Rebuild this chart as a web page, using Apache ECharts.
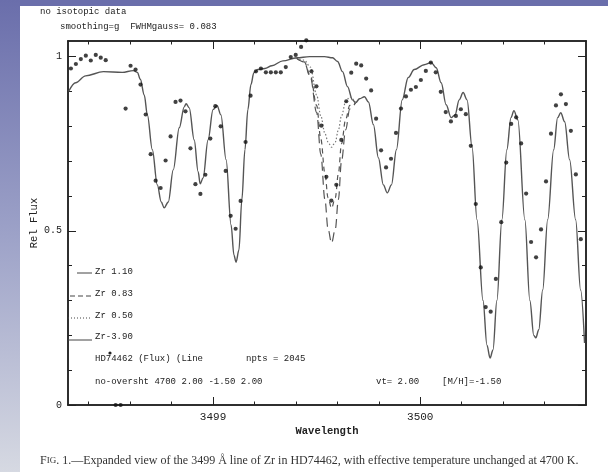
<!DOCTYPE html>
<html>
<head>
<meta charset="utf-8">
<title>Zr 3499</title>
<script src="https://cdn.jsdelivr.net/npm/echarts@6/dist/echarts.min.js"></script>
<style>
  html, body { margin: 0; padding: 0; background: #fff; }
  #main { width: 608px; height: 472px; }
</style>
</head>
<body>
<div id="main"></div>
<script>
// observed flux (dots)
var obsX = [3498.314, 3498.338, 3498.362, 3498.386, 3498.410, 3498.434, 3498.458, 3498.482,
  3498.530, 3498.554, 3498.578, 3498.602, 3498.626, 3498.650, 3498.675, 3498.699, 3498.723,
  3498.747, 3498.771, 3498.795, 3498.819, 3498.843, 3498.867, 3498.891, 3498.915, 3498.939,
  3498.963, 3498.987, 3499.011, 3499.037, 3499.061, 3499.085, 3499.109, 3499.133, 3499.157,
  3499.181, 3499.207, 3499.231, 3499.255, 3499.279, 3499.303, 3499.327, 3499.351, 3499.375,
  3499.399, 3499.425, 3499.450, 3499.475, 3499.499, 3499.523, 3499.547, 3499.571, 3499.595,
  3499.619, 3499.643, 3499.667, 3499.691, 3499.715, 3499.739, 3499.763, 3499.787, 3499.811,
  3499.835, 3499.859, 3499.883, 3499.907, 3499.931, 3499.955, 3499.979, 3500.003, 3500.027,
  3500.051, 3500.075, 3500.099, 3500.123, 3500.148, 3500.172, 3500.196, 3500.220, 3500.244,
  3500.268, 3500.292, 3500.316, 3500.340, 3500.365, 3500.391, 3500.415, 3500.439, 3500.463,
  3500.487, 3500.511, 3500.535, 3500.559, 3500.583, 3500.607, 3500.631, 3500.655, 3500.679,
  3500.703, 3500.727, 3500.751, 3500.775];
var obsY = [0.966, 0.979, 0.993, 1.003, 0.989, 1.005, 0.997, 0.990,
  0.0, 0.0, 0.851, 0.974, 0.963, 0.920, 0.834, 0.720, 0.644,
  0.623, 0.702, 0.771, 0.870, 0.874, 0.843, 0.737, 0.634, 0.606,
  0.661, 0.765, 0.858, 0.800, 0.672, 0.543, 0.506, 0.586, 0.755,
  0.888, 0.958, 0.966, 0.955, 0.955, 0.955, 0.955, 0.970, 0.999,
  1.005, 1.028, 1.047, 0.958, 0.915, 0.802, 0.655, 0.587, 0.632,
  0.761, 0.872, 0.954, 0.980, 0.975, 0.937, 0.903, 0.822, 0.731,
  0.682, 0.707, 0.781, 0.851, 0.886, 0.905, 0.913, 0.933, 0.959,
  0.983, 0.955, 0.899, 0.841, 0.814, 0.830, 0.849, 0.835, 0.744,
  0.577, 0.395, 0.281, 0.268, 0.362, 0.525, 0.696, 0.807, 0.826,
  0.751, 0.607, 0.468, 0.424, 0.504, 0.642, 0.779, 0.860, 0.892,
  0.864, 0.787, 0.662, 0.476];

// synthetic spectrum, Zr -3.90 (shared by all models outside the Zr line)
var synX = [3498.303, 3498.337, 3498.385, 3498.471, 3498.562, 3498.615, 3498.635, 3498.649,
  3498.668, 3498.683, 3498.707, 3498.731, 3498.750, 3498.764, 3498.784, 3498.808, 3498.837,
  3498.861, 3498.870, 3498.885, 3498.909, 3498.928, 3498.938, 3498.952, 3498.976, 3499.000,
  3499.019, 3499.038, 3499.063, 3499.087, 3499.101, 3499.111, 3499.125, 3499.139, 3499.154,
  3499.168, 3499.183, 3499.197, 3499.216, 3499.250, 3499.284, 3499.337, 3499.404, 3499.466,
  3499.538, 3499.577, 3499.601, 3499.625, 3499.649, 3499.673, 3499.688, 3499.707, 3499.731,
  3499.750, 3499.774, 3499.798, 3499.822, 3499.841, 3499.861, 3499.885, 3499.913, 3499.942,
  3499.971, 3500.019, 3500.053, 3500.077, 3500.101, 3500.125, 3500.149, 3500.168, 3500.188,
  3500.207, 3500.226, 3500.250, 3500.274, 3500.303, 3500.322, 3500.337, 3500.351, 3500.370,
  3500.394, 3500.418, 3500.438, 3500.452, 3500.471, 3500.505, 3500.529, 3500.548, 3500.558,
  3500.572, 3500.591, 3500.615, 3500.644, 3500.663, 3500.678, 3500.697, 3500.721, 3500.750,
  3500.774, 3500.793];
var synY = [0.900, 0.925, 0.945, 0.957, 0.955, 0.960, 0.955, 0.935,
  0.890, 0.833, 0.733, 0.632, 0.583, 0.566, 0.583, 0.675, 0.796,
  0.856, 0.865, 0.853, 0.761, 0.670, 0.635, 0.652, 0.761, 0.848,
  0.860, 0.833, 0.704, 0.517, 0.430, 0.410, 0.445, 0.589, 0.733,
  0.848, 0.920, 0.954, 0.963, 0.966, 0.974, 0.988, 0.997, 1.000,
  1.000, 0.997, 0.986, 0.957, 0.914, 0.876, 0.868, 0.879, 0.885,
  0.870, 0.805, 0.710, 0.632, 0.609, 0.632, 0.733, 0.876, 0.940,
  0.963, 0.977, 0.983, 0.968, 0.925, 0.862, 0.825, 0.833, 0.876,
  0.897, 0.876, 0.741, 0.532, 0.300, 0.172, 0.135, 0.158, 0.300,
  0.532, 0.733, 0.825, 0.845, 0.819, 0.532, 0.300, 0.200, 0.193,
  0.216, 0.330, 0.532, 0.733, 0.825, 0.839, 0.813, 0.704, 0.532,
  0.330, 0.178];

// models with Zr, only where they leave the Zr -3.90 curve
var zrX = [3499.400, 3499.440, 3499.470, 3499.500, 3499.520, 3499.540, 3499.555, 3499.572,
  3499.590, 3499.605, 3499.620, 3499.640, 3499.660, 3499.688];
var zr110Y = [0.997, 0.985, 0.940, 0.840, 0.720, 0.590, 0.505, 0.465, 0.505, 0.590, 0.700, 0.790, 0.850, 0.868];
var zr083Y = [0.997, 0.985, 0.945, 0.860, 0.765, 0.665, 0.595, 0.565, 0.595, 0.665, 0.750, 0.820, 0.860, 0.868];
var zr050Y = [0.997, 0.990, 0.970, 0.890, 0.830, 0.780, 0.755, 0.740, 0.755, 0.790, 0.830, 0.870, 0.885, 0.868];

var xMinorTicks = [3498.4, 3498.6, 3498.8, 3499.2, 3499.4, 3499.6, 3499.8, 3500.2, 3500.4, 3500.6];
var xMajorTicks = [3499, 3500];
var yMinorTicks = [0.1, 0.2, 0.3, 0.4, 0.6, 0.7, 0.8, 0.9];
var yMajorTicks = [0, 0.5, 1];

function pairs(xs, ys) {
  var out = [];
  for (var i = 0; i < xs.length; i++) out.push([xs[i], ys[i]]);
  return out;
}

var chart = echarts.init(document.getElementById('main'));
var ink = '#222';
var mono = '"Liberation Mono", monospace';
var X0 = 3498.3, X1 = 3500.8, Y0 = 0, Y1 = 1.045;

function xAx(pos, ticks, len, show) {
  return {
    type: 'value', position: pos, min: X0, max: X1,
    axisLine: { show: true, onZero: false, lineStyle: { color: ink, width: 1.5 } },
    axisTick: { show: true, inside: true, length: len, customValues: ticks, lineStyle: { color: ink } },
    axisLabel: show ? { show: true, customValues: xMajorTicks, margin: 7, color: ink, fontFamily: mono, fontSize: 11,
      formatter: function (v) { return String(Math.round(v)); } } : { show: false },
    splitLine: { show: false },
    name: show ? 'Wavelength' : '', nameLocation: 'middle', nameGap: 21, nameMoveOverlap: false,
    nameTextStyle: { color: ink, fontFamily: mono, fontSize: 10.5, fontWeight: 'bold' }
  };
}
function yAx(pos, ticks, len, show) {
  return {
    type: 'value', position: pos, min: Y0, max: Y1,
    axisLine: { show: true, onZero: false, lineStyle: { color: ink, width: 1.5 } },
    axisTick: { show: true, inside: true, length: len, customValues: ticks, lineStyle: { color: ink } },
    axisLabel: show ? { show: true, customValues: yMajorTicks, margin: 6, color: ink, fontFamily: mono, fontSize: 10,
      formatter: function (v) { return v === 0.5 ? '0.5' : String(Math.round(v)); } } : { show: false },
    splitLine: { show: false },
    name: show ? 'Rel Flux' : '', nameLocation: 'middle', nameGap: 28, nameRotate: 90, nameMoveOverlap: false,
    nameTextStyle: { color: ink, fontFamily: mono, fontSize: 10.5 }
  };
}

var txt = function (s, x, y, extra) {
  var st = { text: s, x: x, y: y, fill: ink, font: '9px ' + mono, verticalAlign: 'middle' };
  for (var k in extra) st[k] = extra[k];
  return { type: 'text', z: 10, style: st };
};
var seg = function (x1, x2, y, dash) {
  return { type: 'line', z: 10, shape: { x1: x1, y1: y, x2: x2, y2: y },
    style: { stroke: '#444', lineWidth: 1, lineDash: dash } };
};

var option = {
  animation: false,
  backgroundColor: '#fff',
  grid: { left: 68, right: 22, top: 41, bottom: 67 },
  xAxis: [
    xAx('bottom', xMinorTicks, 3.5, true),
    xAx('bottom', xMajorTicks, 8, false),
    xAx('top', xMinorTicks, 3.5, false),
    xAx('top', xMajorTicks, 8, false)
  ],
  yAxis: [
    yAx('left', yMinorTicks, 4, true),
    yAx('left', yMajorTicks, 8, false),
    yAx('right', yMinorTicks, 4, false),
    yAx('right', yMajorTicks, 8, false)
  ],
  graphic: [
    // slide background
    { type: 'rect', z: -10, shape: { x: 0, y: 0, width: 608, height: 6 }, style: { fill: '#6a6eab' } },
    { type: 'rect', z: -10, shape: { x: 0, y: 0, width: 20, height: 472 },
      style: { fill: new echarts.graphic.LinearGradient(0, 0, 0, 1, [
        { offset: 0, color: '#6a6eab' }, { offset: 0.5, color: '#9da2c8' }, { offset: 1, color: '#d6d9e2' }]) } },
    txt('no isotopic data', 40, 12),
    txt('smoothing=g  FWHMgauss= 0.083', 60, 27),
    seg(77, 92, 273, null), txt('Zr 1.10', 95, 272),
    seg(70, 92, 296, [5, 3]), txt('Zr 0.83', 95, 294),
    seg(68, 92, 318, [1, 2]), txt('Zr 0.50', 95, 316),
    seg(68, 92, 340, null), txt('Zr-3.90', 95, 337),
    { type: 'circle', z: 10, shape: { cx: 110, cy: 353, r: 1.6 }, style: { fill: ink } },
    txt('HD74462 (Flux) (Line', 95, 359),
    txt('npts = 2045', 246, 359),
    txt('no-oversht 4700 2.00 -1.50 2.00', 95, 382),
    txt('vt= 2.00', 376, 382),
    txt('[M/H]=-1.50', 442, 382),
    { type: 'text', z: 10, style: {
      text: 'F{s|IG}. 1.\u2014Expanded view of the 3499 \u00c5 line of Zr in HD74462, with effective temperature unchanged at 4700 K.',
      x: 40, y: 461, verticalAlign: 'middle', fill: '#333', font: '12px "Liberation Serif", serif',
      rich: { s: { font: '9px "Liberation Serif", serif', fill: '#333' } } } }
  ],
  series: [
    { name: 'Zr-3.90', type: 'line', data: pairs(synX, synY), symbol: 'none', smooth: 0.35, smoothMonotone: 'x',
      lineStyle: { color: '#555', width: 1.4 }, z: 3 },
    { name: 'Zr 1.10', type: 'line', data: pairs(zrX, zr110Y), symbol: 'none', smooth: 0.35, smoothMonotone: 'x',
      lineStyle: { color: '#555', width: 1.2, type: [9, 5] }, z: 3 },
    { name: 'Zr 0.83', type: 'line', data: pairs(zrX, zr083Y), symbol: 'none', smooth: 0.35, smoothMonotone: 'x',
      lineStyle: { color: '#555', width: 1.2, type: [5, 4] }, z: 3 },
    { name: 'Zr 0.50', type: 'line', data: pairs(zrX, zr050Y), symbol: 'none', smooth: 0.35, smoothMonotone: 'x',
      lineStyle: { color: '#777', width: 1.2, type: [1.5, 2] }, z: 3 },
    { name: 'HD74462', type: 'scatter', data: pairs(obsX, obsY), symbol: 'circle', symbolSize: 4.2,
      itemStyle: { color: '#111' }, clip: false, z: 5 }
  ]
};
chart.setOption(option);
</script>
</body>
</html>
